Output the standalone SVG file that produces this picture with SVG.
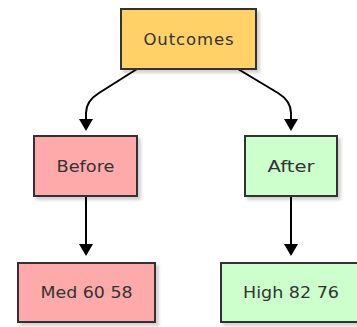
<svg xmlns="http://www.w3.org/2000/svg" width="357" height="327" viewBox="0 0 357 327">
  <style>
    .box { stroke: #333333; stroke-width: 2; filter: url(#shadow); }
    .lbl { font-family: "DejaVu Sans", "Liberation Sans", sans-serif; font-size: 16.5px; fill: #333333; text-anchor: middle; dominant-baseline: central; }
    .edge { fill: none; stroke: #000000; stroke-width: 2; marker-end: url(#arr); }
  </style>
  <defs>
    <filter id="shadow" x="-10%" y="-10%" width="130%" height="140%">
      <feDropShadow dx="3" dy="3" stdDeviation="1.5" flood-color="#000000" flood-opacity="0.18"/>
    </filter>
    <marker id="arr" viewBox="0 0 12 14" markerWidth="12" markerHeight="14" refX="0" refY="7" orient="auto" markerUnits="userSpaceOnUse">
      <path d="M0,0 L12,7 L0,14 Z" fill="#000000"/>
    </marker>
  </defs>
  <rect width="357" height="327" fill="#ffffff"/>
  <g id="connectors">
    <path class="edge" d="M137,69 L99,93 Q86,101 86,113 L86,119"/>
    <path class="edge" d="M238,69 L278,93 Q291,101 291,113 L291,119"/>
    <path class="edge" d="M86,196 L86,244"/>
    <path class="edge" d="M291,196 L291,244"/>
  </g>
  <g id="outcomes">
    <rect class="box" x="121" y="9" width="135" height="60" fill="#ffd166"/>
    <text class="lbl" x="188.5" y="39" textLength="90" lengthAdjust="spacing">Outcomes</text>
  </g>
  <g id="before">
    <rect class="box" x="34" y="136" width="103" height="60" fill="#ffaaaa"/>
    <text class="lbl" x="85.5" y="166" textLength="58" lengthAdjust="spacingAndGlyphs">Before</text>
  </g>
  <g id="after">
    <rect class="box" x="245" y="136" width="92" height="60" fill="#ccffcc"/>
    <text class="lbl" x="291" y="166" textLength="47" lengthAdjust="spacingAndGlyphs">After</text>
  </g>
  <g id="med">
    <rect class="box" x="18" y="263" width="137" height="59" fill="#ffaaaa"/>
    <text class="lbl" x="86.5" y="292.5" textLength="92" lengthAdjust="spacingAndGlyphs">Med 60 58</text>
  </g>
  <g id="high">
    <rect class="box" x="221" y="263" width="137" height="59" fill="#ccffcc"/>
    <text class="lbl" x="291" y="292.5" textLength="96" lengthAdjust="spacingAndGlyphs">High 82 76</text>
  </g>
</svg>
